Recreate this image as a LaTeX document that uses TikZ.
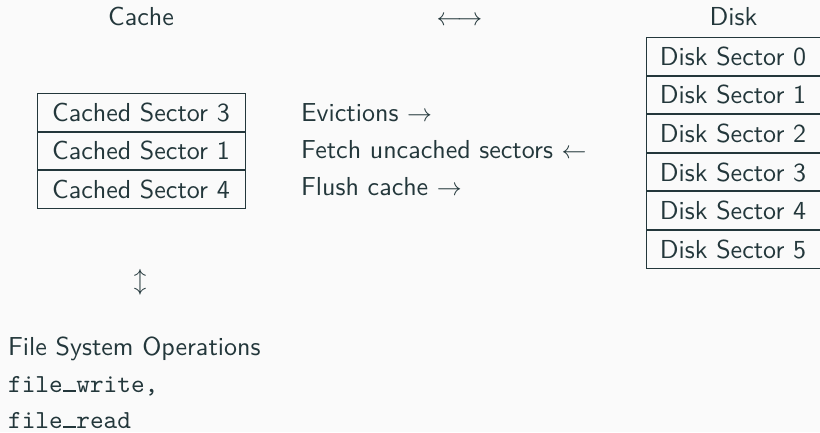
\documentclass[tikz,border=0pt]{standalone}
\usepackage{fontspec}
\setsansfont{lmsans10-regular.otf}
\setmonofont{lmmono10-regular.otf}
\definecolor{fg}{HTML}{23373B}
\definecolor{bg}{HTML}{FAFAFA}
\newcommand\usc{\makebox[0.525em][c]{\rule[0.01em]{0.52em}{0.075em}}}
\begin{document}
\begin{tikzpicture}[x=1pt,y=-1pt,
  every node/.style={text=fg, font=\sffamily\fontsize{26}{31}\selectfont, inner sep=0pt},
  cell/.style={draw=fg, line width=1pt, minimum height=37.6pt, text height=18pt, text depth=0pt, anchor=north},
  cachecell/.style={cell, minimum width=208pt},
  diskcell/.style={cell, minimum width=174pt},
  lbl/.style={anchor=base},
  op/.style={anchor=base west},
  code/.style={anchor=base west, font=\ttfamily\fontsize{26}{31}\selectfont}]
\fill[bg] (0,0) rectangle (820,432);
\useasboundingbox (0,0) rectangle (820,432);
\node[lbl] (cachelbl) at (141,25) {Cache};
\node[lbl] (bothway) at (459.5,25) {$\longleftrightarrow$};
\node[lbl] (disklbl) at (733.5,25) {Disk};
% cache
\node[cachecell] (c3) at (141,93) {Cached Sector 3};
\node[cachecell] (c1) at (c3.south) {Cached Sector 1};
\node[cachecell] (c4) at (c1.south) {Cached Sector 4};
% operations
\node[op] (ev) at (301,121.5) {Evictions $\rightarrow$};
\node[op] (fe) at (301,158) {Fetch uncached sectors $\leftarrow$};
\node[op] (fl) at (301,195) {Flush cache $\rightarrow$};
% disk
\node[diskcell] (d0) at (733,37) {Disk Sector 0};
\node[diskcell] (d1) at (d0.south) {Disk Sector 1};
\node[diskcell] (d2) at (d1.south) {Disk Sector 2};
\node[diskcell] (d3) at (d2.south) {Disk Sector 3};
\node[diskcell] (d4) at (d3.south) {Disk Sector 4};
\node[diskcell] (d5) at (d4.south) {Disk Sector 5};
% bottom
\node (updown) at (140,282) {$\updownarrow$};
\node[op] (fs) at (8,355) {File System Operations};
\node[code] (fw) at (8,392) {file\usc write,};
\node[code] (fr) at (8,428) {file\usc read};
\end{tikzpicture}
\end{document}
